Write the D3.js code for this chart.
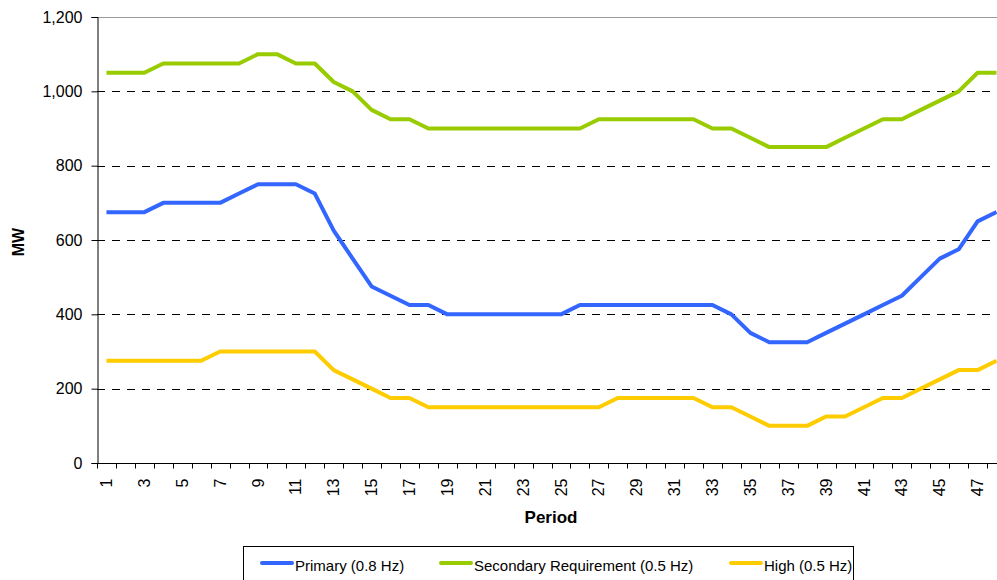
<!DOCTYPE html>
<html>
<head>
<meta charset="utf-8">
<script src="https://cdn.jsdelivr.net/npm/d3@7/dist/d3.min.js"></script>
<style>
  html, body { margin: 0; padding: 0; background: #fff; overflow: hidden; }
  svg { display: block; font-family: "Liberation Sans", Arial, sans-serif; }
</style>
</head>
<body>
<div id="chart"></div>
<script>
var periods = d3.range(1, 49);

var primary = [675, 675, 675, 700, 700, 700, 700, 725, 750, 750, 750, 725,
    625, 550, 475, 450, 425, 425, 400, 400, 400, 400, 400, 400,
    400, 425, 425, 425, 425, 425, 425, 425, 425, 400, 350, 325,
    325, 325, 350, 375, 400, 425, 450, 500, 550, 575, 650, 675];

var secondary = [1050, 1050, 1050, 1075, 1075, 1075, 1075, 1075, 1100, 1100, 1075, 1075,
    1025, 1000, 950, 925, 925, 900, 900, 900, 900, 900, 900, 900,
    900, 900, 925, 925, 925, 925, 925, 925, 900, 900, 875, 850,
    850, 850, 850, 875, 900, 925, 925, 950, 975, 1000, 1050, 1050];

var high = [275, 275, 275, 275, 275, 275, 300, 300, 300, 300, 300, 300,
    250, 225, 200, 175, 175, 150, 150, 150, 150, 150, 150, 150,
    150, 150, 150, 175, 175, 175, 175, 175, 150, 150, 125, 100,
    100, 100, 125, 125, 150, 175, 175, 200, 225, 250, 250, 275];

var seriesNames = ['Primary (0.8 Hz)', 'Secondary Requirement (0.5 Hz)', 'High (0.5 Hz)'];
var seriesColors = ['#3366ff', '#99cc00', '#ffcc00'];
var yTicks = [0, 200, 400, 600, 800, 1000, 1200];

var width = 997, height = 580;
var plotLeft = 97, plotRight = 1006, plotTop = 17, plotBottom = 463;

var svg = d3.select('#chart').append('svg')
    .attr('width', width)
    .attr('height', height);

var x = d3.scaleBand().domain(periods).range([plotLeft, plotRight]);
var y = d3.scaleLinear().domain([0, 1200]).range([plotBottom, plotTop]);

// gridlines
svg.append('g')
    .selectAll('line')
    .data(yTicks.filter(function(d) { return d > 0 && d < 1200; }))
    .join('line')
    .attr('x1', plotLeft).attr('x2', plotRight)
    .attr('y1', function(d) { return Math.round(y(d)) + 0.5; })
    .attr('y2', function(d) { return Math.round(y(d)) + 0.5; })
    .attr('stroke', '#000')
    .attr('stroke-width', 1)
    .attr('stroke-dasharray', '8,7');

svg.append('line')
    .attr('x1', plotLeft).attr('x2', plotRight)
    .attr('y1', y(1200) + 0.5).attr('y2', y(1200) + 0.5)
    .attr('stroke', '#999')
    .attr('stroke-width', 1);

// y axis
var yAxis = svg.append('g')
    .attr('transform', 'translate(' + (plotLeft + 0.5) + ',0)')
    .call(d3.axisLeft(y).tickValues(yTicks).tickSize(6).tickPadding(9).tickFormat(d3.format(',')));
yAxis.select('.domain').attr('stroke', '#000');
yAxis.selectAll('.tick line').attr('stroke', '#000');
yAxis.selectAll('.tick text')
    .attr('fill', '#000')
    .attr('font-size', '16px')
    .attr('font-family', '"Liberation Sans", Arial, sans-serif');

// x axis: ticks on band edges, labels on odd periods
var xAxis = svg.append('g').attr('transform', 'translate(0,' + (plotBottom + 0.5) + ')');
xAxis.append('line')
    .attr('x1', plotLeft).attr('x2', plotRight)
    .attr('stroke', '#000');
xAxis.selectAll('line.tk')
    .data(periods.concat([49]))
    .join('line')
    .attr('class', 'tk')
    .attr('x1', function(d) { return Math.round(d <= 48 ? x(d) : plotRight) + 0.5; })
    .attr('x2', function(d) { return Math.round(d <= 48 ? x(d) : plotRight) + 0.5; })
    .attr('y1', 0).attr('y2', 5)
    .attr('stroke', '#000');
xAxis.selectAll('text')
    .data(periods.filter(function(d) { return d % 2 === 1; }))
    .join('text')
    .attr('transform', function(d) {
        return 'translate(' + (x(d) + x.bandwidth() / 2) + ',15) rotate(-90)';
    })
    .attr('text-anchor', 'end')
    .attr('dy', '0.35em')
    .attr('font-size', '16px')
    .attr('fill', '#000')
    .text(function(d) { return d; });

// lines
var line = d3.line()
    .x(function(d, i) { return x(periods[i]) + x.bandwidth() / 2; })
    .y(function(d) { return y(d); });

[primary, secondary, high].forEach(function(vals, i) {
    svg.append('path')
        .datum(vals)
        .attr('fill', 'none')
        .attr('stroke', seriesColors[i])
        .attr('stroke-width', 4)
        .attr('stroke-linejoin', 'round')
        .attr('d', line);
});

// axis titles
svg.append('text')
    .attr('x', 551).attr('y', 523)
    .attr('text-anchor', 'middle')
    .attr('font-size', '17px')
    .attr('font-weight', 'bold')
    .text('Period');

svg.append('text')
    .attr('transform', 'translate(24,242) rotate(-90)')
    .attr('text-anchor', 'middle')
    .attr('font-size', '16px')
    .attr('font-weight', 'bold')
    .text('MW');

// legend
var legend = svg.append('g');
legend.append('rect')
    .attr('x', 243.5).attr('y', 546.5)
    .attr('width', 610).attr('height', 45)
    .attr('fill', '#fff')
    .attr('stroke', '#000');

var legendX = [262, 441, 731];
seriesNames.forEach(function(name, i) {
    legend.append('line')
        .attr('x1', legendX[i]).attr('x2', legendX[i] + 30)
        .attr('y1', 563).attr('y2', 563)
        .attr('stroke', seriesColors[i])
        .attr('stroke-width', 4)
        .attr('stroke-linecap', 'round');
    legend.append('text')
        .attr('x', legendX[i] + 33).attr('y', 571)
        .attr('font-size', '15px')
        .attr('fill', '#000')
        .text(name);
});
</script>
</body>
</html>
